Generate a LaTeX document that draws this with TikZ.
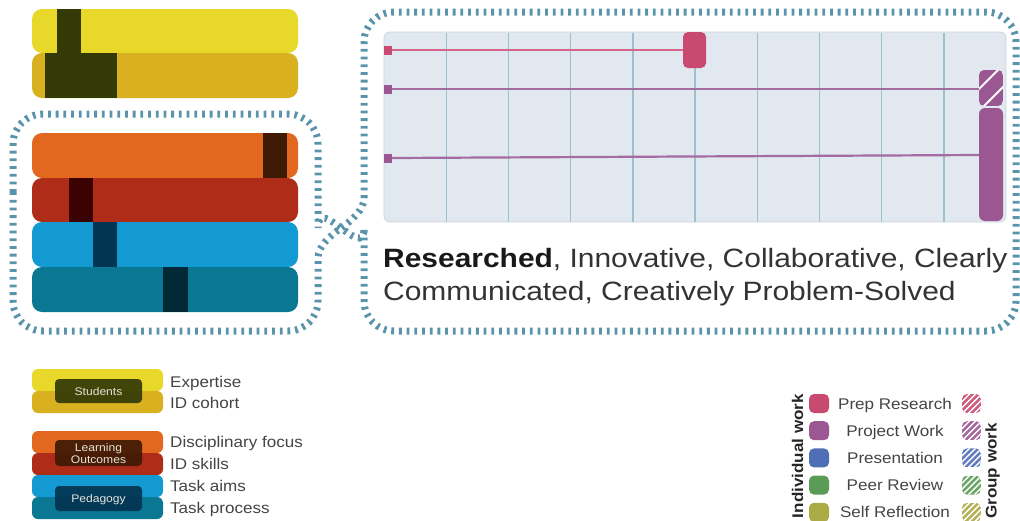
\documentclass[tikz,border=0pt]{standalone}
\usepackage{fontspec}
\setmainfont[FakeStretch=1.1]{Liberation Sans}
\newfontfamily\widefont[FakeStretch=1.13]{Liberation Sans}
\definecolor{yel}{HTML}{E8D82A}
\definecolor{dyel}{HTML}{D8B020}
\definecolor{olivemk}{HTML}{333A06}
\definecolor{orng}{HTML}{E26820}
\definecolor{redb}{HTML}{AF2C18}
\definecolor{blueb}{HTML}{139AD2}
\definecolor{tealb}{HTML}{0A7893}
\definecolor{orngmk}{HTML}{3F1A04}
\definecolor{redmk}{HTML}{3A0200}
\definecolor{bluemk}{HTML}{033452}
\definecolor{tealmk}{HTML}{022935}
\definecolor{framec}{HTML}{5A94AB}
\definecolor{chartbg}{HTML}{E1E8EF}
\definecolor{chartbd}{HTML}{CBD5DD}
\definecolor{gridc}{HTML}{9CC0CF}
\definecolor{prepc}{HTML}{C94A70}
\definecolor{projc}{HTML}{9A5792}
\definecolor{presc}{HTML}{4F6EB5}
\definecolor{peerc}{HTML}{5A9B55}
\definecolor{selfc}{HTML}{ABAA45}
\definecolor{pinkline}{HTML}{D5678C}
\definecolor{purpline}{HTML}{A56CA1}
\definecolor{maintxt}{HTML}{333333}
\definecolor{legtxt}{HTML}{444444}
\definecolor{boxtxt}{HTML}{E4E4DA}
\begin{document}
\begin{tikzpicture}[x=1pt,y=-1pt,
  frame/.style={draw=framec, line width=7pt, dash pattern=on 2.8pt off 4.9pt},
  bar/.style={rounded corners=10pt},
  lbar/.style={rounded corners=6pt},
  lbl/.style={font=\fontsize{15.5}{17}\selectfont, text=legtxt, inner sep=0pt},
  boxlbl/.style={font=\fontsize{11}{11}\selectfont, text=boxtxt, inner sep=0pt, anchor=base},
  vlbl/.style={font=\fontsize{15.5}{17}\selectfont\bfseries, text=black!85, inner sep=0pt, rotate=90, anchor=base},
  maintext/.style={font=\widefont\fontsize{26.5}{30}\selectfont, text=maintxt, inner sep=0pt, anchor=base west}]
\useasboundingbox (0,0) rectangle (1020,520);

% ---- top student bars
\fill[yel, bar] (32,9) rectangle (298,53);
\fill[dyel, bar] (32,53) rectangle (298,98);
\fill[olivemk] (57,9) rectangle (81,53);
\fill[olivemk] (45,53) rectangle (117,98);

% ---- framed bars
\fill[orng, bar] (32,133) rectangle (298,178);
\fill[redb, bar] (32,178) rectangle (298,222);
\fill[blueb, bar] (32,222) rectangle (298,267);
\fill[tealb, bar] (32,267) rectangle (298,312);
\fill[orngmk] (263,133) rectangle (287,178);
\fill[redmk] (69,178) rectangle (93,222);
\fill[bluemk] (93,222) rectangle (117,267);
\fill[tealmk] (163,267) rectangle (188,312);

% ---- dotted frames
\coordinate (join) at (341,228);
\draw[frame] (13,222) [rounded corners=30pt] -- (13,114) -- (318,114) -- (318,198) [sharp corners]
  .. controls (318,210) and (330,220) .. (join)
  .. controls (330,236) and (318,246) .. (318,258) [rounded corners=30pt] -- (318,331) -- (13,331) -- cycle;
\draw[frame] (364,198) [rounded corners=30pt] -- (364,12) -- (1016,12) -- (1016,331) -- (364,331) -- (364,258) [sharp corners]
  .. controls (364,246) and (352,236) .. (join)
  .. controls (352,220) and (364,210) .. (364,198);

% ---- chart
\filldraw[fill=chartbg, draw=chartbd, line width=0.8pt, rounded corners=6pt] (384,32) rectangle (1006,222);
\foreach \k in {1,...,9} {
  \draw[gridc, line width=1.4pt] (384+62.2*\k,32.5) -- (384+62.2*\k,221.5);
}
\coordinate (s1) at (392,50);
\coordinate (s2) at (392,89);
\coordinate (s3) at (392,158);
\draw[pinkline, line width=2.2pt] (s1) -- (684,50);
\draw[purpline, line width=2.2pt] (s2) -- (979,89);
\draw[purpline, line width=2.2pt] (s3) -- (979,155);
\fill[prepc] (384,45.5) rectangle (392,54.5);
\fill[projc] (384,84.5) rectangle (392,93.5);
\fill[projc] (384,153.5) rectangle (392,162.5);
\fill[prepc, rounded corners=5pt] (683,32) rectangle (706,68);
\begin{scope}
  \clip[rounded corners=5pt] (979,70) rectangle (1003,106);
  \fill[projc] (979,70) rectangle (1003,106);
  \draw[white, line width=2pt] (968,100) -- ++(40,-40);
  \draw[white, line width=2pt] (978,112) -- ++(40,-40);
\end{scope}
\fill[projc, rounded corners=6pt] (979,108) rectangle (1003,221);

% ---- main text
\node[maintext] (t1) at (383,267) {\textbf{\color{black!90}Researched}, Innovative, Collaborative, Clearly};
\node[maintext] (t2) at (383,300) {Communicated, Creatively Problem-Solved};

% ---- left legend
\fill[yel, lbar] (32,369) rectangle (163,391);
\fill[dyel, lbar] (32,391) rectangle (163,413);
\fill[olivemk, opacity=0.92, rounded corners=4pt] (55,379) rectangle (142,403);
\node[boxlbl] (stud) at (98.5,395) {Students};
\fill[orng, lbar] (32,431) rectangle (163,453);
\fill[redb, lbar] (32,453) rectangle (163,475);
\fill[blueb, lbar] (32,475) rectangle (163,497);
\fill[tealb, lbar] (32,497) rectangle (163,519);
\fill[orngmk, opacity=0.92, rounded corners=4pt] (55,440) rectangle (142,466);
\node[boxlbl] (lo1) at (98.5,451.5) {Learning};
\node[boxlbl] (lo2) at (98.5,463) {Outcomes};
\fill[bluemk, opacity=0.92, rounded corners=4pt] (55,486) rectangle (142,511);
\node[boxlbl] (ped) at (98.5,502) {Pedagogy};
\node[lbl, anchor=base west] (l1) at (170,387) {Expertise};
\node[lbl, anchor=base west] (l2) at (170,408) {ID cohort};
\node[lbl, anchor=base west] (l3) at (170,447) {Disciplinary focus};
\node[lbl, anchor=base west] (l4) at (170,469) {ID skills};
\node[lbl, anchor=base west] (l5) at (170,491) {Task aims};
\node[lbl, anchor=base west] (l6) at (170,513) {Task process};

% ---- right legend
\foreach \yy/\cc/\nm [count=\i] in {403.5/prepc/Prep Research, 430.7/projc/Project Work, 457.9/presc/Presentation, 485.1/peerc/Peer Review, 512.3/selfc/Self Reflection} {
  \fill[\cc, rounded corners=5pt] (809,\yy-9.5) rectangle (829,\yy+9.5);
  \node[lbl, anchor=base] (r\i) at (895,\yy+5.5) {\nm};
  \begin{scope}
    \clip[rounded corners=5pt] (962,\yy-9.5) rectangle (981,\yy+9.5);
    \fill[\cc!90!white] (962,\yy-9.5) rectangle (981,\yy+9.5);
    \foreach \d in {-18,-12,-6,0,6,12} {
      \draw[white, line width=1.4pt] (962+\d,\yy+10) -- ++(22,-22);
    }
  \end{scope}
}
\node[vlbl] (iw) at (803,456) {Individual work};
\node[vlbl] (gw) at (996.5,471) {Group work};
\end{tikzpicture}
\end{document}
